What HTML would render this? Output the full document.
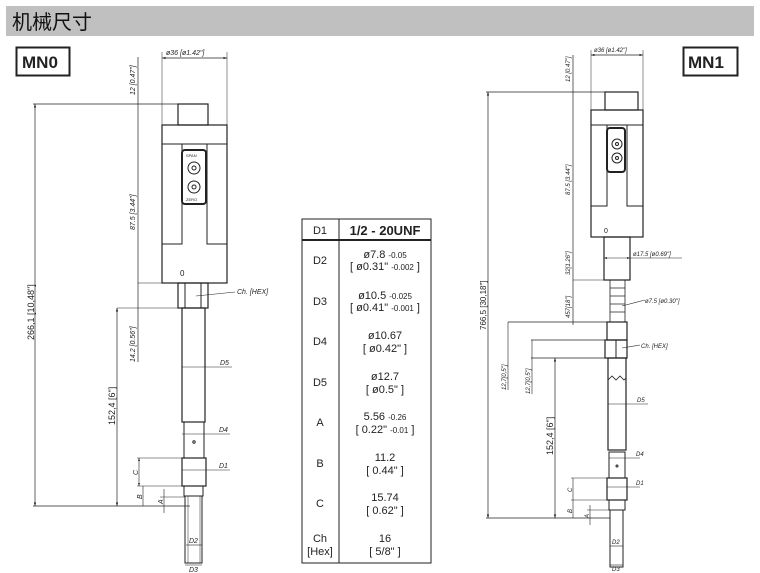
<!DOCTYPE html>
<html><head><meta charset="utf-8"><style>
body{margin:0;background:#fff;width:760px;height:573px;overflow:hidden;}
svg{display:block;}
text{font-family:"Liberation Sans",sans-serif;fill:#222;}
.i{font-style:italic;font-size:7px;}
.t{font-size:11px;}
</style></head><body>
<svg width="760" height="573" viewBox="0 0 760 573" xmlns="http://www.w3.org/2000/svg">
<defs>
<marker id="a" viewBox="0 0 6 6" refX="6" refY="3" markerWidth="5" markerHeight="5" orient="auto-start-reverse"><path d="M0,1 L6,3 L0,5z" fill="#222"/></marker>
</defs>
<rect x="6" y="6" width="748" height="30" fill="#c0c0c0"/>
<text x="12" y="29" style="font-family:'Liberation Sans','Noto Sans CJK SC',sans-serif;font-size:20px;fill:#111">机械尺寸</text>

<g stroke="#222" fill="none" stroke-width="1">
<!-- MN0 -->
<rect x="16.5" y="47.5" width="53" height="28" stroke-width="2"/>
<line x1="162" y1="58" x2="227" y2="58" marker-start="url(#a)" marker-end="url(#a)" stroke-width=".7"/>
<line x1="162" y1="52" x2="162" y2="125" stroke-width=".5"/><line x1="227" y1="52" x2="227" y2="125" stroke-width=".5"/>
<line x1="138" y1="57" x2="138" y2="362" stroke-width=".7"/>
<line x1="33" y1="104" x2="178" y2="104" stroke-width=".7"/>
<line x1="35" y1="104" x2="35" y2="506" marker-start="url(#a)" marker-end="url(#a)" stroke-width=".7"/>
<rect x="178" y="104" width="30" height="21" stroke-width="1.2"/>
<rect x="162" y="125" width="65" height="158" stroke-width="1.2"/>
<line x1="162" y1="144" x2="227" y2="144"/>
<path d="M182 144V244H162M207 144V244H227"/>
<rect x="182" y="150" width="24" height="54" rx="3" stroke-width="2"/>
<circle cx="194" cy="168" r="6"/><circle cx="194" cy="168" r="2"/>
<circle cx="194" cy="187" r="6"/><circle cx="194" cy="187" r="2"/>
<line x1="138" y1="283" x2="178" y2="283" stroke-width=".5"/>
<rect x="178" y="283" width="30" height="25" stroke-width="1.2"/>
<line x1="185" y1="283" x2="185" y2="308"/><line x1="201" y1="283" x2="201" y2="308"/>
<line x1="196" y1="296" x2="235" y2="292" stroke-width=".6"/>
<line x1="117" y1="308" x2="183" y2="308" stroke-width=".6"/>
<line x1="117" y1="308" x2="117" y2="506" marker-start="url(#a)" marker-end="url(#a)" stroke-width=".7"/>
<rect x="182" y="308" width="23" height="114" stroke-width="1.2"/>
<rect x="184" y="422" width="20" height="36"/>
<circle cx="194" cy="442" r="1.2"/>
<rect x="182" y="458" width="24" height="28" stroke-width="1.2"/>
<rect x="184" y="486" width="19" height="10"/>
<rect x="185" y="496" width="17" height="67"/>
<line x1="188" y1="496" x2="188" y2="563" stroke-width=".5"/><line x1="200" y1="496" x2="200" y2="563" stroke-width=".5"/>
<line x1="33" y1="506" x2="190" y2="506" stroke-width=".7"/>
<line x1="182" y1="367" x2="232" y2="367" stroke-width=".6"/>
<line x1="182" y1="434" x2="230" y2="434" stroke-width=".6"/>
<line x1="182" y1="470" x2="230" y2="470" stroke-width=".6"/>
<line x1="137" y1="458" x2="182" y2="458" stroke-width=".5"/>
<line x1="137" y1="486" x2="184" y2="486" stroke-width=".5"/>
<line x1="139" y1="458" x2="139" y2="486" marker-start="url(#a)" marker-end="url(#a)" stroke-width=".6"/>
<line x1="143" y1="486" x2="143" y2="506" stroke-width=".6"/>
<line x1="160" y1="497" x2="185" y2="497" stroke-width=".5"/>
<line x1="164" y1="489" x2="164" y2="513" stroke-width=".6"/>
<line x1="186" y1="545" x2="202" y2="545" stroke-width=".6"/>
<line x1="185" y1="565" x2="202" y2="565" stroke-width=".6"/>

<!-- MN1 -->
<rect x="683.5" y="47.5" width="54" height="28" stroke-width="2"/>
<line x1="591" y1="55" x2="643" y2="55" marker-start="url(#a)" marker-end="url(#a)" stroke-width=".7"/>
<line x1="591" y1="50" x2="591" y2="110" stroke-width=".5"/><line x1="643" y1="50" x2="643" y2="110" stroke-width=".5"/>
<line x1="573" y1="55" x2="573" y2="325" stroke-width=".7"/>
<line x1="486" y1="92" x2="605" y2="92" stroke-width=".7"/>
<line x1="488" y1="92" x2="488" y2="518" marker-start="url(#a)" marker-end="url(#a)" stroke-width=".7"/>
<rect x="605" y="92" width="33" height="18" stroke-width="1.2"/>
<rect x="591" y="110" width="52" height="127" stroke-width="1.2"/>
<line x1="591" y1="125" x2="643" y2="125"/>
<path d="M607 125V206H591M627 125V206H643"/>
<rect x="607" y="128" width="18" height="44" rx="3" stroke-width="2"/>
<circle cx="617" cy="144" r="5"/><circle cx="617" cy="144" r="1.5"/>
<circle cx="617" cy="158" r="5"/><circle cx="617" cy="158" r="1.5"/>
<rect x="604" y="237" width="26" height="43" stroke-width="1.2"/>
<line x1="604" y1="258" x2="630" y2="258" marker-start="url(#a)" marker-end="url(#a)" stroke-width=".6"/>
<line x1="630" y1="258" x2="682" y2="258" stroke-width=".6"/>
<line x1="573" y1="280" x2="604" y2="280" stroke-width=".6"/>
<path d="M610 280H625V322H610Z M610 288H625M610 296H625M610 304H625M610 312H625" stroke-width=".8"/>
<line x1="622" y1="306" x2="645" y2="300" stroke-width=".6"/>
<line x1="508" y1="322" x2="607" y2="322" stroke-width=".7"/>
<rect x="607" y="322" width="20" height="18" stroke-width="1.2"/>
<rect x="605" y="340" width="22" height="18" stroke-width="1.2"/>
<line x1="616" y1="340" x2="616" y2="358"/>
<line x1="622" y1="348" x2="640" y2="345" stroke-width=".6"/>
<line x1="531" y1="340" x2="605" y2="340" stroke-width=".7"/>
<line x1="531" y1="358" x2="607" y2="358" stroke-width=".7"/>
<line x1="508" y1="322" x2="508" y2="390" stroke-width=".6"/>
<line x1="532" y1="340" x2="532" y2="394" stroke-width=".6"/>
<line x1="555" y1="358" x2="555" y2="518" marker-start="url(#a)" marker-end="url(#a)" stroke-width=".7"/>
<rect x="608" y="358" width="18" height="92" stroke-width="1.2"/>
<path d="M608 380l4-4 4 4 4-4 4 4 2-2" stroke-width=".8"/>
<line x1="608" y1="404" x2="648" y2="404" stroke-width=".6"/>
<rect x="609" y="452" width="16" height="26"/>
<circle cx="617" cy="466" r="1"/>
<line x1="609" y1="458" x2="640" y2="458" stroke-width=".6"/>
<rect x="607" y="478" width="20" height="22" stroke-width="1.2"/>
<line x1="607" y1="487" x2="640" y2="487" stroke-width=".6"/>
<rect x="609" y="500" width="16" height="10"/>
<rect x="610" y="510" width="13" height="57"/>
<line x1="571" y1="478" x2="607" y2="478" stroke-width=".5"/>
<line x1="571" y1="500" x2="609" y2="500" stroke-width=".5"/>
<line x1="573" y1="478" x2="573" y2="518" stroke-width=".6"/>
<line x1="587" y1="510" x2="610" y2="510" stroke-width=".5"/>
<line x1="590" y1="505" x2="590" y2="525" stroke-width=".6"/>
<line x1="486" y1="518" x2="610" y2="518" stroke-width=".7"/>
<line x1="610" y1="546" x2="623" y2="546" stroke-width=".6"/>
<line x1="610" y1="565" x2="623" y2="565" stroke-width=".6"/>

<!-- table -->
<rect x="302" y="219" width="129" height="344" stroke-width="1"/>
<line x1="339" y1="219" x2="339" y2="563"/>
<line x1="302" y1="240" x2="431" y2="240" stroke-width="2"/>
</g>

<g>
<text x="22" y="68" style="font-size:17px;font-weight:bold">MN0</text>
<text x="688" y="68" style="font-size:17px;font-weight:bold">MN1</text>
<text x="166" y="55" class="i">ø36 [ø1.42"]</text>
<text x="594" y="52" class="i" style="font-size:6px">ø36 [ø1.42"]</text>
<text class="i" transform="translate(135,95) rotate(-90)">12 [0.47"]</text>
<text class="i" transform="translate(135,230) rotate(-90)">87.5 [3.44"]</text>
<text class="i" transform="translate(135,362) rotate(-90)">14.2 [0.56"]</text>
<text transform="translate(34,340) rotate(-90)" style="font-size:9px">266,1 [10,48"]</text>
<text transform="translate(115,425) rotate(-90)" style="font-size:9px">152,4 [6"]</text>
<text x="180" y="276" style="font-size:8px">0</text>
<text x="186" y="157" style="font-size:4px">SPAN</text>
<text x="186" y="201" style="font-size:4px">ZERO</text>
<text x="237" y="294" class="i">Ch. [HEX]</text>
<text x="220" y="365" class="i">D5</text>
<text x="219" y="432" class="i">D4</text>
<text x="219" y="468" class="i">D1</text>
<text class="i" transform="translate(138,475) rotate(-90)">C</text>
<text class="i" transform="translate(142,499) rotate(-90)">B</text>
<text class="i" transform="translate(163,504) rotate(-90)">A</text>
<text x="189" y="543" class="i">D2</text>
<text x="189" y="572" class="i">D3</text>

<text class="i" transform="translate(570,82) rotate(-90)" style="font-size:6px">12 [0.47"]</text>
<text class="i" transform="translate(570,195) rotate(-90)" style="font-size:6px">87.5 [3.44"]</text>
<text class="i" transform="translate(570,275) rotate(-90)" style="font-size:6px">32[1.26"]</text>
<text class="i" transform="translate(570,318) rotate(-90)" style="font-size:6px">457[18"]</text>
<text transform="translate(486,330) rotate(-90)" style="font-size:8px">766,5 [30,18"]</text>
<text transform="translate(553,455) rotate(-90)" style="font-size:9px">152,4 [6"]</text>
<text class="i" transform="translate(506,390) rotate(-90)" style="font-size:6px">12,7[0,5"]</text>
<text class="i" transform="translate(530,394) rotate(-90)" style="font-size:6px">12,7[0,5"]</text>
<text x="604" y="233" style="font-size:7px">0</text>
<text x="633" y="256" class="i" style="font-size:6px">ø17.5 [ø0.69"]</text>
<text x="645" y="303" class="i" style="font-size:6px">ø7.5 [ø0.30"]</text>
<text x="641" y="348" class="i" style="font-size:6px">Ch. [HEX]</text>
<text x="637" y="402" class="i" style="font-size:6px">D5</text>
<text x="636" y="456" class="i" style="font-size:6px">D4</text>
<text x="636" y="485" class="i" style="font-size:6px">D1</text>
<text class="i" transform="translate(572,492) rotate(-90)" style="font-size:6px">C</text>
<text class="i" transform="translate(572,513) rotate(-90)" style="font-size:6px">B</text>
<text class="i" transform="translate(589,518) rotate(-90)" style="font-size:6px">A</text>
<text x="612" y="544" class="i" style="font-size:6px">D2</text>
<text x="612" y="571" class="i" style="font-size:6px">D3</text>

<g text-anchor="middle">
<text x="320" y="234" class="t">D1</text>
<text x="385" y="235" style="font-size:13px;font-weight:bold">1/2 - 20UNF</text>
<text x="320" y="264" class="t">D2</text>
<text x="385" y="258" class="t">ø7.8 <tspan style="font-size:8px">-0.05</tspan></text>
<text x="385" y="270" class="t">[ ø0.31" <tspan style="font-size:8px">-0.002</tspan> ]</text>
<text x="320" y="305" class="t">D3</text>
<text x="385" y="299" class="t">ø10.5 <tspan style="font-size:8px">-0.025</tspan></text>
<text x="385" y="311" class="t">[ ø0.41" <tspan style="font-size:8px">-0.001</tspan> ]</text>
<text x="320" y="345" class="t">D4</text>
<text x="385" y="339" class="t">ø10.67</text>
<text x="385" y="352" class="t">[ ø0.42" ]</text>
<text x="320" y="386" class="t">D5</text>
<text x="385" y="380" class="t">ø12.7</text>
<text x="385" y="393" class="t">[ ø0.5" ]</text>
<text x="320" y="426" class="t">A</text>
<text x="385" y="420" class="t">5.56 <tspan style="font-size:8px">-0.26</tspan></text>
<text x="385" y="433" class="t">[ 0.22" <tspan style="font-size:8px">-0.01</tspan> ]</text>
<text x="320" y="467" class="t">B</text>
<text x="385" y="461" class="t">11.2</text>
<text x="385" y="474" class="t">[ 0.44" ]</text>
<text x="320" y="507" class="t">C</text>
<text x="385" y="501" class="t">15.74</text>
<text x="385" y="514" class="t">[ 0.62" ]</text>
<text x="320" y="542" class="t">Ch</text>
<text x="320" y="555" class="t">[Hex]</text>
<text x="385" y="542" class="t">16</text>
<text x="385" y="555" class="t">[ 5/8" ]</text>
</g>
</g>
</svg>
</body></html>
